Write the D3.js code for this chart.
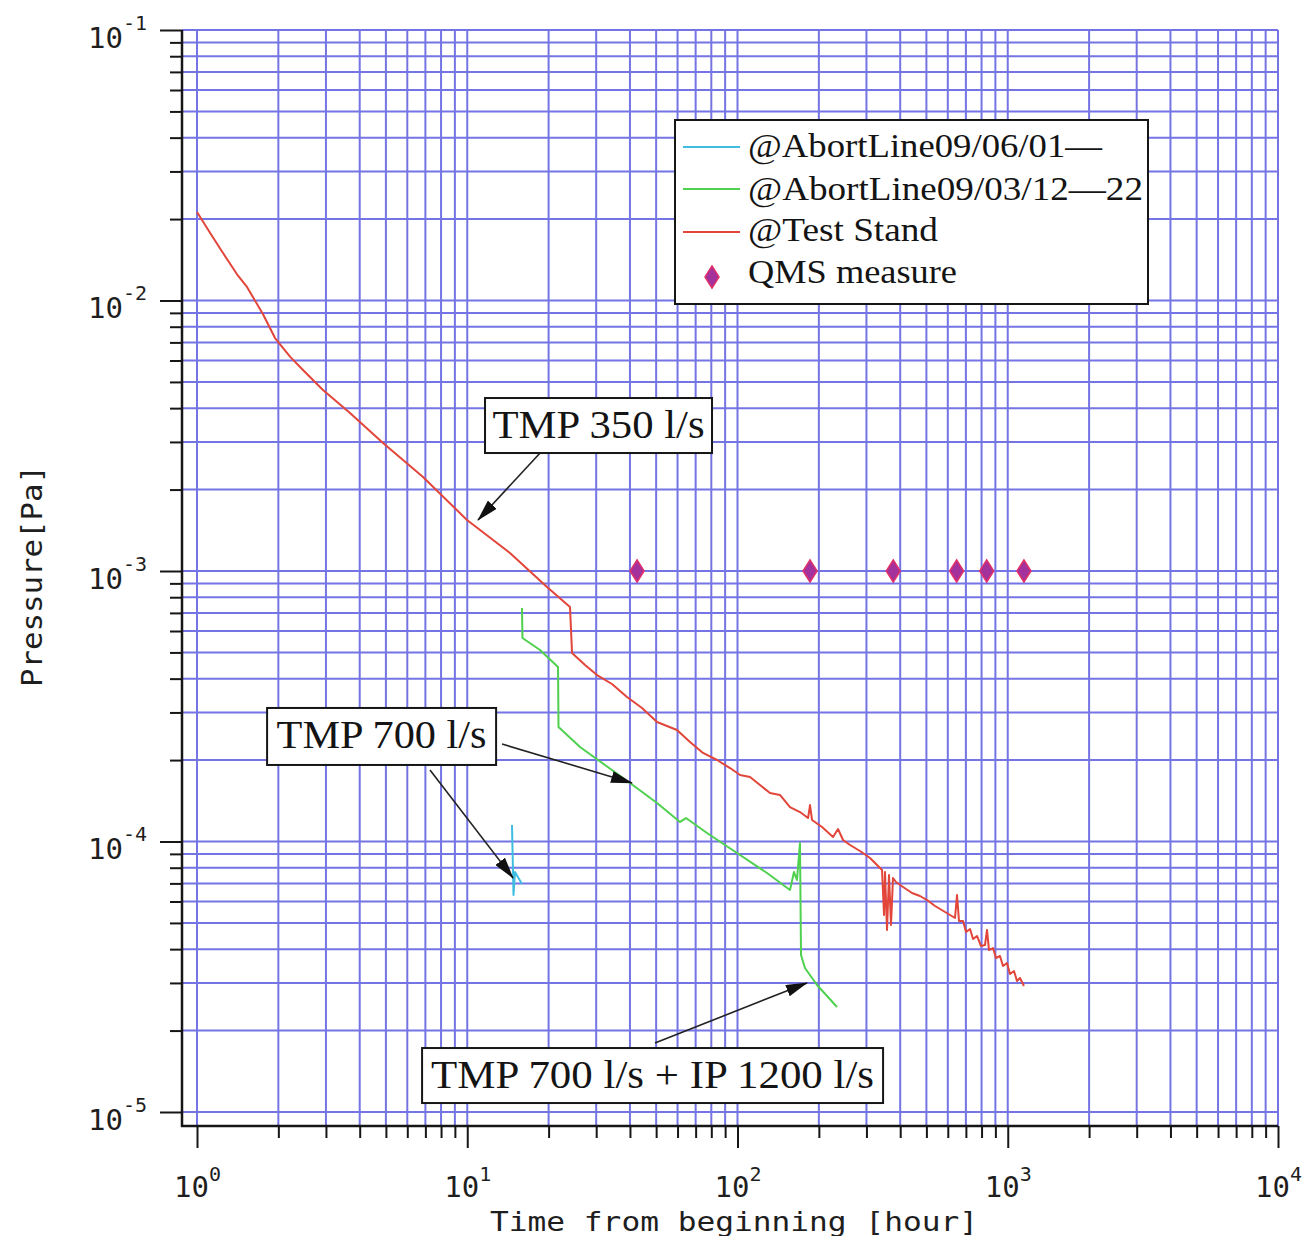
<!DOCTYPE html>
<html>
<head>
<meta charset="utf-8">
<script src="https://cdn.jsdelivr.net/npm/d3@7"></script>
<style>
  body { margin: 0; background: #fff; }
  svg { display: block; }
</style>
</head>
<body>
<svg id="chart" width="1308" height="1236"></svg>
<script>
// ---- series data: elapsed time [hour] and pressure [Pa] ----
const seriesNames = ["@AbortLine09/06/01\u2014", "@AbortLine09/03/12\u201422", "@Test Stand", "QMS measure"];

const abortJunHours = [14.64, 14.83, 15.02, 15.94];
const abortJunPa    = [1.151e-4, 6.342e-5, 7.713e-5, 6.967e-5];

const abortMarHours = [15.94, 16.01, 18.59, 21.67, 21.76, 26.14, 32.33, 40.02, 50.37, 61.27, 64.49,
                       77.12, 99.6, 128.6, 156.4, 161.8, 166.0, 170.3, 171.8, 177.7, 196.9, 233.5];
const abortMarPa    = [7.297e-4, 5.655e-4, 5.104e-4, 4.418e-4, 2.651e-4, 2.236e-4, 1.918e-4, 1.646e-4,
                       1.388e-4, 1.181e-4, 1.221e-4, 1.075e-4, 9.069e-5, 7.647e-5, 6.618e-5, 7.713e-5,
                       7.207e-5, 9.874e-5, 3.805e-5, 3.406e-5, 2.948e-5, 2.445e-5];

const testStandHours = [1.0, 1.117, 1.248, 1.406, 1.531, 1.755, 1.944, 2.209, 2.467, 2.925, 3.683, 4.879,
                        6.861, 9.98, 14.39, 19.73, 24.0, 24.42, 27.28, 30.21, 34.32, 39.0, 44.33, 50.37,
                        54.84, 59.72, 66.72, 74.54, 84.0, 93.83, 102.2, 111.3, 121.1, 131.9, 143.6, 156.4,
                        170.3, 182.4, 185.5, 188.7, 205.5, 225.7, 235.5, 245.8, 260.9, 284.0, 309.3, 336.8,
                        342.6, 348.5, 351.4, 357.5, 363.6, 369.8, 376.2, 385.9, 409.7, 442.3, 473.4, 502.8,
                        538.2, 586.1, 638.0, 649.0, 660.1, 683.2, 700.9, 725.2, 743.9, 769.7, 796.2, 823.8,
                        838.0, 852.4, 881.9, 904.7, 935.9, 960.3, 993.6, 1019.3, 1054.7, 1081.9, 1110.0, 1148];
const testStandPa    = [2.124e-2, 1.78e-2, 1.498e-2, 1.25e-2, 1.122e-2, 8.9e-3, 7.266e-3, 6.2e-3,
                        5.535e-3, 4.669e-3, 3.838e-3, 2.972e-3, 2.226e-3, 1.543e-3, 1.165e-3, 8.73e-4,
                        7.36e-4, 4.975e-4, 4.493e-4, 4.125e-4, 3.822e-4, 3.421e-4, 3.114e-4, 2.765e-4,
                        2.673e-4, 2.584e-4, 2.333e-4, 2.125e-4, 2.001e-4, 1.869e-4, 1.761e-4, 1.731e-4,
                        1.618e-4, 1.511e-4, 1.486e-4, 1.341e-4, 1.285e-4, 1.221e-4, 1.364e-4, 1.201e-4,
                        1.131e-4, 1.039e-4, 1.112e-4, 1.013e-4, 9.707e-5, 9.224e-5, 8.69e-5, 7.98e-5,
                        7.845e-5, 5.35e-5, 7.713e-5, 4.709e-5, 7.52e-5, 4.913e-5, 7.331e-5, 7.085e-5,
                        6.79e-5, 6.451e-5, 6.288e-5, 6.077e-5, 5.775e-5, 5.488e-5, 5.214e-5, 6.342e-5,
                        5.083e-5, 5.083e-5, 4.629e-5, 4.749e-5, 4.362e-5, 4.474e-5, 4.108e-5, 4.143e-5,
                        4.709e-5, 3.97e-5, 4.038e-5, 3.71e-5, 3.773e-5, 3.465e-5, 3.555e-5, 3.236e-5,
                        3.32e-5, 3.05e-5, 3.128e-5, 2.923e-5];

const qmsHours = [42.5, 185.5, 377, 647, 836, 1148];
const qmsPa    = [1e-3, 1e-3, 1e-3, 1e-3, 1e-3, 1e-3];

// ---- axis ticks ----
const xMajorTicks = [1, 10, 100, 1000, 10000];
const xTickExponents = ["0", "1", "2", "3", "4"];
const yMajorTicks = [1e-5, 1e-4, 1e-3, 1e-2, 1e-1];
const yTickExponents = ["-5", "-4", "-3", "-2", "-1"];
const xTitle = "Time from beginning [hour]";
const yTitle = "Pressure[Pa]";

// ---- callout labels (anchored in data units) ----
const calloutTexts = ["TMP 350 l/s", "TMP 700 l/s", "TMP 700 l/s + IP 1200 l/s"];
const callouts = [
  { text: calloutTexts[0], box: [30.6, 3.45e-3], w: 227, h: 55, tw: 212,
    arrows: [[[18.6, 2.73e-3], [10.96, 1.543e-3]]] },
  { text: calloutTexts[1], box: [4.82, 2.445e-4], w: 229, h: 57, tw: 210,
    arrows: [[[13.45, 2.293e-4], [40.7, 1.646e-4]], [[7.28, 1.838e-4], [14.77, 7.33e-5]]] },
  { text: calloutTexts[2], box: [48.5, 1.364e-5], w: 461, h: 55, tw: 443,
    arrows: [[[49.5, 1.799e-5], [180.8, 3.0e-5]]] }
];

// ---- styles ----
const colors = { jun: "#3fbde0", mar: "#4fd04f", stand: "#e2463a", grid: "#7474e4",
                 qmsFill: "#a3329c", qmsStroke: "#e0306a", ink: "#161616" };
const monoFont = "'DejaVu Sans Mono', monospace";
const serifFont = "'Liberation Serif', 'Times New Roman', serif";

const frame = { left: 182, bottom: 1126, top: 30, right: 1278 };

const svg = d3.select("#chart");
svg.append("rect").attr("width", 1308).attr("height", 1236).attr("fill", "#fff");

const x = d3.scaleLog().domain([1, 1e4]).range([197, frame.right]);
const y = d3.scaleLog().domain([1e-5, 1e-1]).range([1112, frame.top]);

// all decade subdivisions for grid and minor ticks
function decadeSteps(lo, hi) {
  const out = [];
  for (let e = lo; e < hi; e++) for (let m = 1; m <= 9; m++) out.push(+(m * Math.pow(10, e)).toPrecision(3));
  out.push(Math.pow(10, hi));
  return out;
}
const xAll = decadeSteps(0, 4);
const yAll = decadeSteps(-5, -1);

// ---- grid ----
const grid = svg.append("g").attr("stroke", colors.grid).attr("stroke-width", 2);
grid.selectAll("line.v").data(xAll).join("line").attr("class", "v")
  .attr("x1", d => x(d)).attr("x2", d => x(d))
  .attr("y1", frame.top).attr("y2", frame.bottom);
grid.selectAll("line.h").data(yAll).join("line").attr("class", "h")
  .attr("y1", d => y(d)).attr("y2", d => y(d))
  .attr("x1", frame.left).attr("x2", frame.right);

// ---- axes ----
function styleAxis(g) {
  g.select(".domain").remove();
  g.selectAll(".tick line").attr("stroke", colors.ink).attr("stroke-width", 2);
}
const xMinor = xAll.filter(v => !xMajorTicks.includes(v));
const yMinor = yAll.filter(v => !yMajorTicks.includes(v));

svg.append("g").attr("transform", `translate(0,${frame.bottom})`)
  .call(d3.axisBottom(x).tickValues(xMinor).tickSize(12).tickFormat(() => "")).call(styleAxis);
const xMajorG = svg.append("g").attr("transform", `translate(0,${frame.bottom})`)
  .call(d3.axisBottom(x).tickValues(xMajorTicks).tickSize(22).tickFormat(() => "")).call(styleAxis);

svg.append("g").attr("transform", `translate(${frame.left},0)`)
  .call(d3.axisLeft(y).tickValues(yMinor).tickSize(12).tickFormat(() => "")).call(styleAxis);
const yMajorG = svg.append("g").attr("transform", `translate(${frame.left},0)`)
  .call(d3.axisLeft(y).tickValues(yMajorTicks).tickSize(22).tickFormat(() => "")).call(styleAxis);

// axis lines
svg.append("line").attr("x1", frame.left).attr("x2", frame.left).attr("y1", frame.top).attr("y2", frame.bottom + 1)
  .attr("stroke", colors.ink).attr("stroke-width", 2.5);
svg.append("line").attr("x1", frame.left - 1).attr("x2", frame.right).attr("y1", frame.bottom).attr("y2", frame.bottom)
  .attr("stroke", colors.ink).attr("stroke-width", 2.5);

// power-of-ten tick labels
xMajorG.selectAll(".tick").each(function (d, i) {
  const t = d3.select(this).append("text")
    .attr("y", 71).attr("text-anchor", "middle").attr("fill", "#1e1e1e")
    .attr("font-family", monoFont).attr("font-size", 29).text("10");
  t.append("tspan").attr("dy", -16).attr("font-size", 20).text(xTickExponents[i]);
});
yMajorG.selectAll(".tick").each(function (d, i) {
  const t = d3.select(this).append("text")
    .attr("x", -35).attr("y", 17).attr("text-anchor", "end").attr("fill", "#1e1e1e")
    .attr("font-family", monoFont).attr("font-size", 29).text("10");
  t.append("tspan").attr("dy", -18).attr("font-size", 20).text(yTickExponents[i]);
});

// axis titles
svg.append("text").attr("x", 734).attr("y", 1231).attr("text-anchor", "middle")
  .attr("font-family", monoFont).attr("font-size", 26).attr("fill", "#1e1e1e")
  .attr("textLength", 488).attr("lengthAdjust", "spacingAndGlyphs").text(xTitle);
svg.append("text").attr("transform", "rotate(-90)").attr("x", -576).attr("y", 42)
  .attr("text-anchor", "middle").attr("font-family", monoFont).attr("font-size", 28).attr("fill", "#1e1e1e")
  .attr("textLength", 222).attr("lengthAdjust", "spacingAndGlyphs").text(yTitle);

// ---- curves ----
const line = d3.line().x(d => x(d[0])).y(d => y(d[1]));
const zip = (a, b) => a.map((v, i) => [v, b[i]]);

const curves = svg.append("g").attr("fill", "none").attr("stroke-width", 2).attr("stroke-linejoin", "round");
curves.append("path").datum(zip(testStandHours, testStandPa)).attr("d", line).attr("stroke", colors.stand);
curves.append("path").datum(zip(abortMarHours, abortMarPa)).attr("d", line).attr("stroke", colors.mar);
curves.append("path").datum(zip(abortJunHours, abortJunPa)).attr("d", line).attr("stroke", colors.jun);

// QMS markers
const diamond = "M0,-11L7,0L0,11L-7,0Z";
svg.append("g").selectAll("path").data(zip(qmsHours, qmsPa)).join("path")
  .attr("d", diamond)
  .attr("transform", d => `translate(${x(d[0])},${y(d[1])})`)
  .attr("fill", colors.qmsFill).attr("stroke", colors.qmsStroke).attr("stroke-width", 1.5);

// ---- legend ----
const legend = svg.append("g").attr("transform", "translate(675,120)");
legend.append("rect").attr("width", 473).attr("height", 184)
  .attr("fill", "#fff").attr("stroke", colors.ink).attr("stroke-width", 2);
const legendRows = [
  { name: seriesNames[0], color: colors.jun, kind: "line", tl: 354 },
  { name: seriesNames[1], color: colors.mar, kind: "line", tl: 395 },
  { name: seriesNames[2], color: colors.stand, kind: "line", tl: 190 },
  { name: seriesNames[3], color: colors.qmsFill, kind: "diamond", tl: 209 }
];
const rowY = [27, 69, 112, 157];
const rowBase = [37, 80, 121, 163];
legendRows.forEach((r, i) => {
  if (r.kind === "line") {
    legend.append("line").attr("x1", 8).attr("x2", 65).attr("y1", rowY[i]).attr("y2", rowY[i])
      .attr("stroke", r.color).attr("stroke-width", 2);
  } else {
    legend.append("path").attr("d", diamond).attr("transform", `translate(37,${rowY[i]})`)
      .attr("fill", colors.qmsFill).attr("stroke", colors.qmsStroke).attr("stroke-width", 1.5);
  }
  legend.append("text").attr("x", 73).attr("y", rowBase[i])
    .attr("font-family", serifFont).attr("font-size", 34).attr("fill", "#141414")
    .attr("textLength", r.tl).attr("lengthAdjust", "spacingAndGlyphs").text(r.name);
});

// ---- callouts with arrows ----
svg.append("defs").append("marker").attr("id", "arrowhead")
  .attr("viewBox", "0 0 22 12").attr("refX", 21).attr("refY", 6)
  .attr("markerWidth", 22).attr("markerHeight", 12).attr("markerUnits", "userSpaceOnUse")
  .attr("orient", "auto")
  .append("path").attr("d", "M0,0L22,6L0,12Z").attr("fill", "#111");

const calloutG = svg.append("g");
callouts.forEach(c => {
  c.arrows.forEach(a => {
    calloutG.append("line")
      .attr("x1", x(a[0][0])).attr("y1", y(a[0][1]))
      .attr("x2", x(a[1][0])).attr("y2", y(a[1][1]))
      .attr("stroke", "#222").attr("stroke-width", 1.6).attr("marker-end", "url(#arrowhead)");
  });
  const cx = x(c.box[0]), cy = y(c.box[1]);
  calloutG.append("rect").attr("x", cx - c.w / 2).attr("y", cy - c.h / 2)
    .attr("width", c.w).attr("height", c.h)
    .attr("fill", "#fff").attr("stroke", colors.ink).attr("stroke-width", 2);
  calloutG.append("text").attr("x", cx).attr("y", cy + 12).attr("text-anchor", "middle")
    .attr("font-family", serifFont).attr("font-size", 40).attr("fill", "#141414")
    .attr("textLength", c.tw).attr("lengthAdjust", "spacingAndGlyphs").text(c.text);
});
</script>
</body>
</html>
